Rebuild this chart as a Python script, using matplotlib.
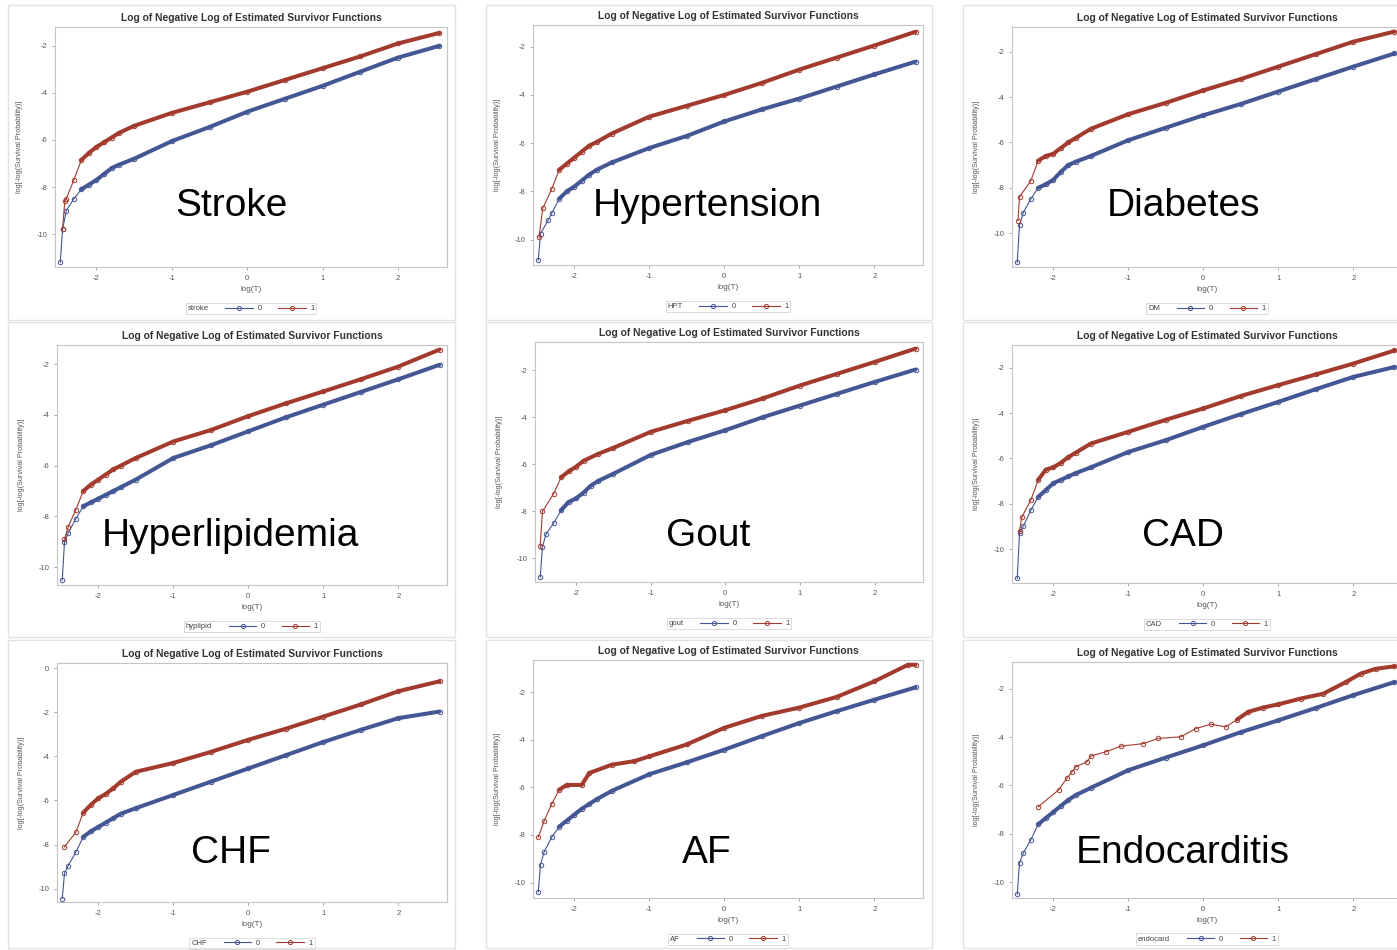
import matplotlib
matplotlib.use("Agg")
import matplotlib.pyplot as plt
import numpy as np
from matplotlib.lines import Line2D
from matplotlib.patches import Rectangle

plt.rcParams['font.family'] = ['Liberation Sans', 'DejaVu Sans']
plt.rcParams['axes.unicode_minus'] = False

# values: x = log(T), y = log(-log(S)), group 0 (blue) and 1 (red)
stroke_x0 = [-2.48, -2.45, -2.4, -2.3, -2.2, -2.1, -2.0, -1.9, -1.8, -1.7, -1.5, -1.0, -0.5, 0.0, 0.5, 1.0, 1.5, 2.0, 2.55]
stroke_y0 = [-11.2, -9.8, -9.0, -8.5, -8.1, -7.9, -7.7, -7.45, -7.2, -7.05, -6.8, -6.05, -5.45, -4.8, -4.25, -3.7, -3.1, -2.5, -2.0]
stroke_x1 = [-2.45, -2.42, -2.4, -2.3, -2.2, -2.1, -2.0, -1.9, -1.8, -1.7, -1.5, -1.0, -0.5, 0.0, 0.5, 1.0, 1.5, 2.0, 2.55]
stroke_y1 = [-9.8, -8.6, -8.5, -7.7, -6.85, -6.55, -6.3, -6.1, -5.9, -5.7, -5.4, -4.85, -4.4, -3.95, -3.45, -2.95, -2.45, -1.9, -1.45]

hpt_x0 = [-2.48, -2.45, -2.35, -2.3, -2.2, -2.1, -2.0, -1.9, -1.8, -1.7, -1.5, -1.0, -0.5, 0.0, 0.5, 1.0, 1.5, 2.0, 2.55]
hpt_y0 = [-10.85, -9.75, -9.2, -8.9, -8.3, -8.0, -7.8, -7.55, -7.3, -7.1, -6.8, -6.2, -5.7, -5.1, -4.6, -4.15, -3.65, -3.15, -2.62]
hpt_x1 = [-2.47, -2.42, -2.3, -2.2, -2.1, -2.0, -1.9, -1.8, -1.7, -1.5, -1.0, -0.5, 0.0, 0.5, 1.0, 1.5, 2.0, 2.55]
hpt_y1 = [-9.9, -8.7, -7.9, -7.1, -6.85, -6.6, -6.35, -6.1, -5.95, -5.6, -4.9, -4.45, -4.0, -3.5, -2.95, -2.45, -1.95, -1.38]

dm_x0 = [-2.48, -2.45, -2.4, -2.3, -2.2, -2.1, -2.0, -1.9, -1.8, -1.7, -1.5, -1.0, -0.5, 0.0, 0.5, 1.0, 1.5, 2.0, 2.55]
dm_y0 = [-11.3, -9.65, -9.1, -8.5, -8.0, -7.85, -7.65, -7.3, -7.0, -6.85, -6.6, -5.9, -5.35, -4.8, -4.3, -3.75, -3.2, -2.65, -2.07]
dm_x1 = [-2.47, -2.45, -2.3, -2.2, -2.1, -2.0, -1.9, -1.8, -1.7, -1.5, -1.0, -0.5, 0.0, 0.5, 1.0, 1.5, 2.0, 2.55]
dm_y1 = [-9.45, -8.4, -7.7, -6.8, -6.6, -6.5, -6.25, -6.0, -5.8, -5.4, -4.75, -4.25, -3.7, -3.2, -2.65, -2.1, -1.55, -1.1]

hyplipid_x0 = [-2.48, -2.45, -2.4, -2.3, -2.2, -2.1, -2.0, -1.9, -1.8, -1.7, -1.5, -1.0, -0.5, 0.0, 0.5, 1.0, 1.5, 2.0, 2.55]
hyplipid_y0 = [-10.5, -9.0, -8.65, -8.1, -7.6, -7.45, -7.3, -7.15, -7.0, -6.85, -6.55, -5.7, -5.2, -4.65, -4.1, -3.6, -3.1, -2.6, -2.03]
hyplipid_x1 = [-2.45, -2.4, -2.3, -2.2, -2.1, -2.0, -1.9, -1.8, -1.7, -1.5, -1.0, -0.5, 0.0, 0.5, 1.0, 1.5, 2.0, 2.55]
hyplipid_y1 = [-8.9, -8.4, -7.75, -7.0, -6.75, -6.55, -6.35, -6.15, -6.0, -5.7, -5.05, -4.6, -4.05, -3.55, -3.08, -2.6, -2.1, -1.43]

gout_x0 = [-2.48, -2.45, -2.4, -2.3, -2.2, -2.1, -2.0, -1.9, -1.8, -1.7, -1.5, -1.0, -0.5, 0.0, 0.5, 1.0, 1.5, 2.0, 2.55]
gout_y0 = [-10.8, -9.5, -8.95, -8.5, -7.95, -7.6, -7.45, -7.2, -6.9, -6.7, -6.4, -5.6, -5.05, -4.55, -4.0, -3.5, -3.0, -2.5, -1.97]
gout_x1 = [-2.48, -2.45, -2.3, -2.2, -2.1, -2.0, -1.9, -1.7, -1.5, -1.0, -0.5, 0.0, 0.5, 1.0, 1.5, 2.0, 2.55]
gout_y1 = [-9.45, -8.0, -7.25, -6.55, -6.3, -6.1, -5.85, -5.55, -5.3, -4.62, -4.15, -3.7, -3.2, -2.65, -2.15, -1.65, -1.08]

cad_x0 = [-2.48, -2.45, -2.4, -2.3, -2.2, -2.1, -2.0, -1.9, -1.8, -1.7, -1.5, -1.0, -0.5, 0.0, 0.5, 1.0, 1.5, 2.0, 2.55]
cad_y0 = [-11.3, -9.3, -9.0, -8.3, -7.7, -7.4, -7.1, -6.95, -6.8, -6.65, -6.4, -5.72, -5.2, -4.61, -4.05, -3.51, -2.95, -2.41, -1.97]
cad_x1 = [-2.45, -2.42, -2.3, -2.2, -2.1, -2.0, -1.9, -1.8, -1.7, -1.5, -1.0, -0.5, 0.0, 0.5, 1.0, 1.5, 2.0, 2.55]
cad_y1 = [-9.2, -8.6, -7.85, -6.95, -6.5, -6.4, -6.2, -5.95, -5.75, -5.35, -4.83, -4.3, -3.8, -3.25, -2.77, -2.3, -1.82, -1.24]

chf_x0 = [-2.48, -2.45, -2.4, -2.3, -2.2, -2.1, -2.0, -1.9, -1.8, -1.7, -1.5, -1.0, -0.5, 0.0, 0.5, 1.0, 1.5, 2.0, 2.55]
chf_y0 = [-10.45, -9.3, -8.95, -8.35, -7.65, -7.4, -7.2, -7.0, -6.8, -6.6, -6.35, -5.75, -5.15, -4.55, -3.95, -3.35, -2.8, -2.27, -1.97]
chf_x1 = [-2.45, -2.3, -2.2, -2.1, -2.0, -1.9, -1.8, -1.7, -1.5, -1.0, -0.5, 0.0, 0.5, 1.0, 1.5, 2.0, 2.55]
chf_y1 = [-8.1, -7.45, -6.55, -6.2, -5.9, -5.7, -5.45, -5.15, -4.7, -4.3, -3.8, -3.25, -2.75, -2.2, -1.65, -1.05, -0.6]

af_x0 = [-2.48, -2.45, -2.4, -2.3, -2.2, -2.1, -2.0, -1.9, -1.8, -1.7, -1.5, -1.0, -0.5, 0.0, 0.5, 1.0, 1.5, 2.0, 2.55]
af_y0 = [-10.4, -9.25, -8.7, -8.1, -7.65, -7.4, -7.15, -6.9, -6.7, -6.5, -6.15, -5.45, -4.95, -4.42, -3.85, -3.3, -2.8, -2.32, -1.8]
af_x1 = [-2.48, -2.4, -2.3, -2.2, -2.1, -1.9, -1.8, -1.5, -1.2, -1.0, -0.5, 0.0, 0.5, 1.0, 1.5, 2.0, 2.45, 2.55]
af_y1 = [-8.1, -7.4, -6.7, -6.1, -5.9, -5.9, -5.4, -5.05, -4.9, -4.7, -4.2, -3.5, -3.0, -2.65, -2.2, -1.55, -0.85, -0.85]

endo_x0 = [-2.48, -2.45, -2.4, -2.3, -2.2, -2.1, -2.0, -1.9, -1.8, -1.7, -1.5, -1.0, -0.5, 0.0, 0.5, 1.0, 1.5, 2.0, 2.55]
endo_y0 = [-10.5, -9.2, -8.8, -8.25, -7.6, -7.35, -7.1, -6.85, -6.6, -6.4, -6.1, -5.37, -4.85, -4.34, -3.8, -3.31, -2.8, -2.27, -1.73]
endo_x1 = [-2.2, -1.93, -1.82, -1.75, -1.7, -1.55, -1.5, -1.3, -1.1, -0.8, -0.6, -0.3, -0.1, 0.1, 0.3,
           0.45, 0.6, 0.8, 1.0, 1.3, 1.6, 1.9, 2.1, 2.3, 2.55]
endo_y1 = [-6.88, -6.19, -5.71, -5.44, -5.23, -5.02, -4.79, -4.61, -4.38, -4.27, -4.06, -3.99, -3.65, -3.47, -3.58,
           -3.28, -2.96, -2.78, -2.65, -2.41, -2.21, -1.73, -1.38, -1.18, -1.08]

names = ["Stroke", "Hypertension", "Diabetes", "Hyperlipidemia", "Gout", "CAD", "CHF", "AF", "Endocarditis"]
variables = ["stroke", "HPT", "DM", "hyplipid", "gout", "CAD", "CHF", "AF", "endocard"]
series = [
    (stroke_x0, stroke_y0, stroke_x1, stroke_y1),
    (hpt_x0, hpt_y0, hpt_x1, hpt_y1),
    (dm_x0, dm_y0, dm_x1, dm_y1),
    (hyplipid_x0, hyplipid_y0, hyplipid_x1, hyplipid_y1),
    (gout_x0, gout_y0, gout_x1, gout_y1),
    (cad_x0, cad_y0, cad_x1, cad_y1),
    (chf_x0, chf_y0, chf_x1, chf_y1),
    (af_x0, af_y0, af_x1, af_y1),
    (endo_x0, endo_y0, endo_x1, endo_y1),
]
ylims = [(-11.4, -1.2), (-11.05, -1.1), (-11.5, -0.9), (-10.7, -1.25), (-11.0, -0.8),
         (-11.5, -1.0), (-10.6, 0.23), (-10.65, -0.65), (-10.65, -0.9)]

W, H = 1397, 950
BLUE = "#445694"
RED = "#A23A2E"

fig = plt.figure(figsize=(W / 100, H / 100), dpi=100)
fig.patch.set_facecolor("white")

# pixel boxes: axes (left, top, right, bottom)
axes_px = [
    (55, 27, 447, 267), (533, 25, 923, 265), (1012, 27, 1402, 267),
    (57, 345, 447, 585), (535, 342, 923, 582), (1012, 345, 1402, 583),
    (57, 663, 447, 902), (533, 660, 923, 898), (1012, 662, 1402, 898),
]
frame_cols = [(8, 455), (486, 932), (963, 1402)]
frame_rows = [(5, 320), (322, 637), (640, 948)]
label_pos = [(231, 206), (707, 206), (1183, 206),
             (230, 536), (708, 536), (1183, 536),
             (231, 853), (707, 853), (1183, 853)]

# panel frames
for (fl, fr) in frame_cols:
    for (ft, fb) in frame_rows:
        fig.add_artist(Rectangle((fl / W, 1 - fb / H), (fr - fl) / W, (fb - ft) / H,
                                 transform=fig.transFigure, fill=False,
                                 edgecolor="#e2e2e2", lw=1.0))


def draw_curve(ax, xs, ys, color, dense_from):
    xs = np.array(xs)
    ys = np.array(ys)
    ax.plot(xs, ys, color=color, lw=0.8, marker="o", ms=3.2, mfc="none", mew=0.7, zorder=3)
    m = xs >= dense_from
    if m.sum() > 1:
        ax.plot(xs[m], ys[m], color=color, lw=2.9, solid_capstyle="round",
                solid_joinstyle="round", zorder=4)


for i in range(9):
    l, t, r, b = axes_px[i]
    ax = fig.add_axes([l / W, 1 - b / H, (r - l) / W, (b - t) / H])
    x0, y0, x1, y1 = series[i]
    draw_curve(ax, x0, y0, BLUE, -2.2)
    draw_curve(ax, x1, y1, RED, 0.4 if names[i] == "Endocarditis" else -2.2)

    ax.set_xlim(-2.55, 2.65)
    ax.set_ylim(*ylims[i])
    ax.set_xticks([-2, -1, 0, 1, 2])
    if names[i] == "CHF":
        ax.set_yticks([0, -2, -4, -6, -8, -10])
    else:
        ax.set_yticks([-2, -4, -6, -8, -10])
    for s in ax.spines.values():
        s.set_color("#c4c4c4")
        s.set_linewidth(0.8)
    ax.tick_params(direction="out", length=2.5, width=0.6, color="#999999",
                   labelsize=5.5, labelcolor="#555555", pad=3)
    ax.set_title("Log of Negative Log of Estimated Survivor Functions",
                 fontsize=7.4, fontweight="bold", color="#333333", pad=4)
    ax.set_xlabel("log(T)", fontsize=5.8, color="#555555", labelpad=3)
    ax.set_ylabel("log[-log(Survival Probability)]", fontsize=5.2, color="#555555", labelpad=10)

    h0 = Line2D([], [], color=BLUE, lw=0.8, marker="o", ms=3, mfc="none", mew=0.7)
    h1 = Line2D([], [], color=RED, lw=0.8, marker="o", ms=3, mfc="none", mew=0.7)
    leg = ax.legend([h0, h1], ["0", "1"], title=variables[i], ncol=2, numpoints=1,
                    loc="upper center", bbox_to_anchor=(0.5, -0.15), fontsize=5.5,
                    title_fontsize=5.5, frameon=True, fancybox=False, edgecolor="#cccccc",
                    handlelength=3.6, handletextpad=0.6, columnspacing=1.0,
                    borderpad=0.25, borderaxespad=0)
    leg.get_frame().set_linewidth(0.6)
    leg.get_title().set_color("#444444")
    for txt in leg.get_texts():
        txt.set_color("#444444")
    # put the legend title on the left of the entries
    vp = leg.get_children()[0]
    title_box, handle_box = vp.get_children()
    vp._children = [handle_box]
    handle_box._children.insert(0, title_box)
    handle_box.sep = 12

    lx, ly = label_pos[i]
    fig.text(lx / W, 1 - ly / H, names[i], fontsize=28, color="black",
             ha="center", va="center")

fig.savefig("out.png", dpi=100, facecolor="white")
